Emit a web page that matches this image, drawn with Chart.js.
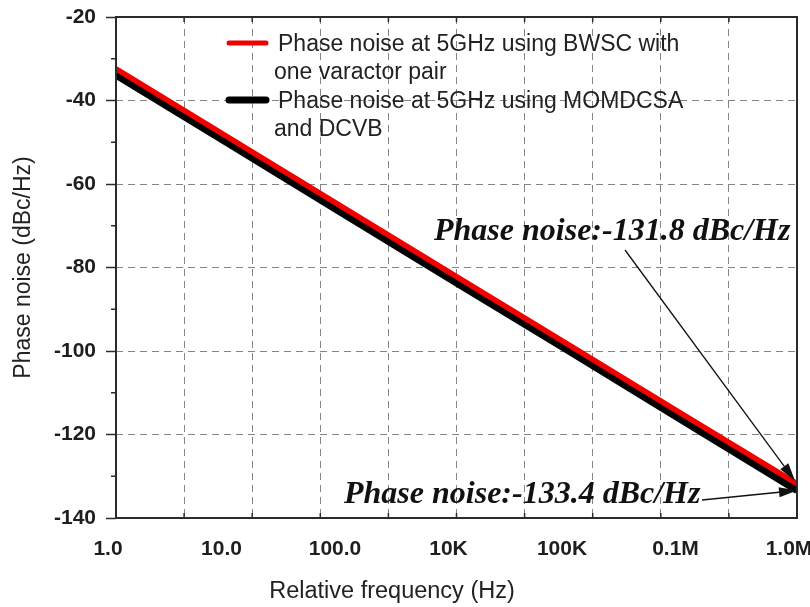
<!DOCTYPE html>
<html>
<head>
<meta charset="utf-8">
<script src="https://cdn.jsdelivr.net/npm/chart.js@4/dist/chart.umd.min.js"></script>
<style>
  html, body { margin: 0; padding: 0; background: #ffffff; }
  #wrap { width: 810px; height: 607px; }
</style>
</head>
<body>
<div id="wrap"><canvas id="c" width="810" height="607"></canvas></div>
<script>
// Offset frequency (Hz) and phase noise (dBc/Hz) for the two oscillators
const freqHz = [1, 10, 100, 1e3, 1e4, 1e5, 1e6];
const bwscNoise = [-32.4, -49.0, -65.6, -82.2, -98.7, -115.3, -131.8];
const momdcsaNoise = [-33.9, -50.5, -67.1, -83.7, -100.2, -116.8, -133.4];

const seriesLabels = [
  ['Phase noise at 5GHz using BWSC with', 'one varactor pair'],
  ['Phase noise at 5GHz using MOMDCSA', 'and DCVB']
];
const seriesColors = ['#f20000', '#000000'];

// Tick labels printed under the decades of the frequency axis
const xTickValues = [1, 10, 100, 1e3, 1e4, 1e5, 1e6];
const xTickLabels = ['1.0', '10.0', '100.0', '10K', '100K', '0.1M', '1.0M'];
// Dashed vertical grid: ten equal divisions across the log axis (in decades)
const xGridDecades = [0, 0.6, 1.2, 1.8, 2.4, 3.0, 3.6, 4.2, 4.8, 5.4, 6.0];
const yMin = -140, yMax = -20, yStep = 20;
const yMinorTicks = [-130, -110, -90, -70, -50, -30];

const noteTexts = ['Phase noise:-131.8 dBc/Hz', 'Phase noise:-133.4 dBc/Hz'];
const xTitle = 'Relative frequency (Hz)';
const yTitle = 'Phase noise (dBc/Hz)';

const SANS = "'Liberation Sans', Arial, sans-serif";
const SERIF = "'Liberation Serif', 'Times New Roman', serif";
const GRID = '#858585';
const AXIS = '#2b2b2b';

function seg(ctx, x1, y1, x2, y2) {
  ctx.beginPath(); ctx.moveTo(x1, y1); ctx.lineTo(x2, y2); ctx.stroke();
}
function arrow(ctx, x1, y1, x2, y2) {
  const ang = Math.atan2(y2 - y1, x2 - x1);
  const len = 18, half = 5;
  const bx = x2 - len * Math.cos(ang), by = y2 - len * Math.sin(ang);
  ctx.lineWidth = 1.3;
  seg(ctx, x1, y1, bx, by);
  ctx.beginPath();
  ctx.moveTo(x2, y2);
  ctx.lineTo(bx + half * Math.sin(ang), by - half * Math.cos(ang));
  ctx.lineTo(bx - half * Math.sin(ang), by + half * Math.cos(ang));
  ctx.closePath();
  ctx.fill();
}

const decor = {
  id: 'decor',
  afterDraw(chart) {
    const { ctx, chartArea: a, scales } = chart;
    const xs = scales.x, ys = scales.y;
    ctx.save();

    // minor ticks on the left axis, outward
    ctx.strokeStyle = AXIS; ctx.lineWidth = 1.5;
    yMinorTicks.forEach(v => {
      const py = ys.getPixelForValue(v);
      seg(ctx, a.left - 5, py, a.left, py);
    });
    // short inward ticks at every vertical grid division, top and bottom
    xs.ticks.forEach(t => {
      const px = xs.getPixelForValue(t.value);
      seg(ctx, px, a.top, px, a.top + 5);
      seg(ctx, px, a.bottom - 5, px, a.bottom);
    });
    // plot frame
    ctx.lineWidth = 2;
    ctx.strokeRect(a.left, a.top, a.right - a.left, a.bottom - a.top);

    // legend: line sample + two text lines per series
    const legendTop = [43, 100];
    ctx.font = '23px ' + SANS;
    ctx.textBaseline = 'alphabetic';
    ctx.textAlign = 'left';
    chart.data.datasets.forEach((ds, i) => {
      const ly = legendTop[i];
      ctx.strokeStyle = ds.borderColor;
      ctx.lineWidth = i === 0 ? 5 : 7;
      ctx.lineCap = 'round';
      seg(ctx, 229, ly, 266, ly);
      ctx.lineCap = 'butt';
      ctx.fillStyle = '#222';
      seriesLabels[i].forEach((txt, k) => {
        ctx.fillText(txt, k === 0 ? 278 : 274, ly + 7.5 + k * 28);
      });
    });

    // value notes with arrows pointing to the 1 MHz end points
    const xEnd = xs.getPixelForValue(freqHz[freqHz.length - 1]);
    const yRedEnd = ys.getPixelForValue(bwscNoise[bwscNoise.length - 1]);
    const yBlkEnd = ys.getPixelForValue(momdcsaNoise[momdcsaNoise.length - 1]);
    ctx.fillStyle = '#111';
    ctx.strokeStyle = '#111';
    ctx.font = 'italic bold 32px ' + SERIF;
    ctx.fillText(noteTexts[0], 434, 240);
    ctx.fillText(noteTexts[1], 344, 503);
    arrow(ctx, 625, 250, xEnd - 2, yRedEnd - 3);
    arrow(ctx, 702, 500, xEnd, yBlkEnd);

    // horizontal axis title
    ctx.fillStyle = '#222';
    ctx.font = '23.5px ' + SANS;
    ctx.textAlign = 'center';
    ctx.textBaseline = 'middle';
    ctx.fillText(xTitle, 392, 592);
    ctx.restore();
  }
};

const datasets = [bwscNoise, momdcsaNoise].map((vals, i) => ({
  label: seriesLabels[i].join(' '),
  data: freqHz.map((f, k) => ({ x: f, y: vals[k] })),
  borderColor: seriesColors[i],
  backgroundColor: seriesColors[i],
  borderWidth: i === 0 ? 5.5 : 7,
  pointRadius: 0,
  tension: 0,
  fill: false
}));

function noEdgePadding(s) {
  s.paddingLeft = 0; s.paddingRight = 0; s.paddingTop = 0; s.paddingBottom = 0;
}

new Chart(document.getElementById('c'), {
  type: 'line',
  data: { datasets },
  plugins: [decor],
  options: {
    responsive: false,
    animation: false,
    devicePixelRatio: 1,
    layout: { padding: { top: 17, right: 13, left: 0, bottom: 0 } },
    plugins: { legend: { display: false }, tooltip: { enabled: false }, title: { display: false } },
    scales: {
      x: {
        type: 'logarithmic',
        position: 'bottom',
        min: 1, max: 1e6,
        weight: 0,
        afterBuildTicks: s => { s.ticks = xGridDecades.map(d => ({ value: Math.pow(10, d) })); },
        afterFit: s => { s.height = 0; noEdgePadding(s); },
        ticks: { display: false },
        border: { display: false, dash: [7, 5] },
        grid: {
          drawTicks: false,
          lineWidth: 1,
          color: c => (c.index === 0 || c.index === xGridDecades.length - 1) ? 'rgba(0,0,0,0)' : GRID
        }
      },
      xLab: {
        type: 'logarithmic',
        position: 'bottom',
        axis: 'x',
        min: 1, max: 1e6,
        weight: 1,
        afterBuildTicks: s => { s.ticks = xTickValues.map(v => ({ value: v })); },
        afterFit: s => { s.height = 89; noEdgePadding(s); },
        grid: { display: false },
        border: { display: false },
        ticks: {
          autoSkip: false,
          maxRotation: 0,
          padding: 11,
          labelOffset: -8,
          color: '#1e1e1e',
          font: { family: SANS, size: 21, weight: 'bold' },
          callback: (v, i) => xTickLabels[i]
        }
      },
      y: {
        type: 'linear',
        position: 'left',
        min: yMin, max: yMax,
        afterFit: s => { s.width = 116; noEdgePadding(s); },
        ticks: {
          stepSize: yStep,
          padding: 10,
          color: '#1e1e1e',
          font: { family: SANS, size: 21, weight: 'bold' }
        },
        border: { display: false, dash: [7, 5] },
        grid: {
          lineWidth: 1,
          drawTicks: true,
          tickLength: 10,
          tickWidth: 1.5,
          tickColor: AXIS,
          tickBorderDash: [],
          color: c => (c.tick && (c.tick.value === yMin || c.tick.value === yMax)) ? 'rgba(0,0,0,0)' : GRID
        },
        title: {
          display: true,
          text: yTitle,
          color: '#222',
          font: { family: SANS, size: 23 },
          padding: { top: 10, bottom: 0 }
        }
      }
    }
  }
});
</script>
</body>
</html>
